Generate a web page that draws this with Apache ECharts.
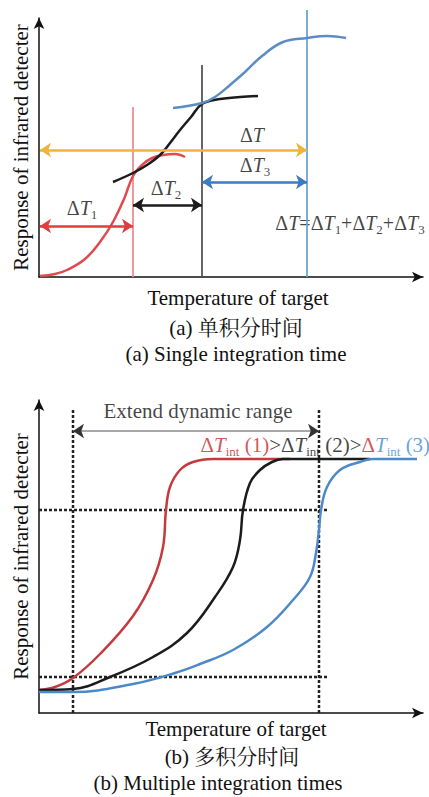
<!DOCTYPE html>
<html>
<head>
<meta charset="utf-8">
<script src="https://cdn.jsdelivr.net/npm/echarts@6/dist/echarts.min.js"></script>
<style>
  html, body { margin: 0; padding: 0; background: #fff; }
  #chart { width: 429px; height: 797px; }
</style>
</head>
<body>
<div id="chart"></div>
<script>
// (a) single integration time -- target temperature vs detector response
const aRedT = [1, 16, 28, 46, 61, 74, 85, 94, 103, 113, 124, 136, 146];
const aRedR = [1, 3, 7, 18, 35, 55, 78, 101, 112, 119, 122, 123, 120];
const aBlackT = [74, 94, 108, 121, 131, 141, 152, 163, 181, 201, 219];
const aBlackR = [95, 104, 112, 122, 134, 147, 160, 173, 178, 180, 181];
const aBlueT = [134, 163, 176, 191, 206, 223, 244, 268, 288, 307];
const aBlueR = [169, 174, 180, 192, 205, 221, 235, 239, 241, 239];
const aEdges = [94, 163, 268];        // ends of ΔT1, ΔT2, ΔT3
const aEdgeTops = [170, 212, 267];
const aArrowLevels = [51, 72, 95];    // ΔT1, ΔT2, ΔT3 arrows
const aTotalLevel = 127;              // ΔT arrow
const aStart = 1;

// (b) multiple integration times
const bRedT = [0, 16, 34, 61, 94, 114, 124, 127, 131, 141, 154, 174, 251];
const bRedR = [23, 26, 35, 59, 97, 133, 166, 203, 226, 243, 251, 254, 254];
const bBlackT = [0, 34, 71, 114, 148, 176, 194, 201, 204, 211, 221, 233, 244, 331];
const bBlackR = [23, 24, 36, 56, 80, 116, 146, 173, 203, 230, 243, 251, 254, 254];
const bBlueT = [0, 34, 94, 136, 161, 194, 228, 254, 271, 277, 280, 282, 288, 301, 321, 334, 378];
const bBlueR = [21, 21, 29, 40, 49, 63, 86, 113, 136, 160, 183, 203, 226, 243, 251, 254, 254];
const bDrops = [34, 280];       // vertical dotted guides
const bDropTop = 303;
const bLevels = [36, 203];      // horizontal dotted guides
const bLevelEnd = 290;
const bRangeLevel = 282;

const SERIF = 'Liberation Serif, serif';
const CAPTION_FONT = 'Liberation Serif, Noto Serif CJK SC, Noto Sans CJK SC, serif';

const pairs = (xs, ys) => xs.map((x, i) => [x, ys[i]]);

function deltaRich(size) {
  const colors = { k: '#111', r: '#c8282e', b: '#3f8ad8' };
  const rich = {};
  Object.keys(colors).forEach(c => {
    rich['d' + c] = { fontFamily: SERIF, fontSize: size, color: colors[c], lineHeight: size + 6 };
    rich['t' + c] = { fontFamily: SERIF, fontSize: size, fontStyle: 'italic', color: colors[c], lineHeight: size + 6 };
    rich['n' + c] = { fontFamily: SERIF, fontSize: size, color: colors[c], lineHeight: size + 6 };
    rich['s' + c] = { fontFamily: SERIF, fontSize: 13, color: colors[c], lineHeight: 13, padding: [12, 0, 0, 0] };
  });
  return rich;
}

function axisPair(grid, xMax, yMax) {
  const axisLine = {
    show: true,
    onZero: false,
    symbol: ['none', 'arrow'],
    symbolSize: [8, 11],
    lineStyle: { color: '#111', width: 1.5 }
  };
  return {
    x: {
      gridIndex: grid, type: 'value', min: 0, max: xMax,
      axisLine, axisTick: { show: false }, axisLabel: { show: false }, splitLine: { show: false }
    },
    y: {
      gridIndex: grid, type: 'value', min: 0, max: yMax,
      name: 'Response of infrared detecter',
      nameLocation: 'middle', nameGap: 8,
      nameTextStyle: { fontFamily: SERIF, fontSize: 21, color: '#111' },
      axisLine, axisTick: { show: false }, axisLabel: { show: false }, splitLine: { show: false }
    }
  };
}

function plainLine(grid, data, color, width, type, smooth) {
  return {
    type: 'line', xAxisIndex: grid, yAxisIndex: grid, data,
    symbol: 'none', smooth: smooth || false, clip: false, silent: true,
    lineStyle: { color, width, type: type || 'solid' }
  };
}

function arrow(from, to, y, color) {
  return [
    { coord: [from, y], lineStyle: { color, width: 2.5, type: 'solid' } },
    { coord: [to, y] }
  ];
}

const axesA = axisPair(0, 384, 259);
const axesB = axisPair(1, 384, 313);

const option = {
  animation: false,
  backgroundColor: '#fff',
  title: [
    ['Temperature of target', 238, 287],
    ['(a) 单积分时间', 236, 317],
    ['(a) Single integration time', 236, 343],
    ['Temperature of target', 236, 718],
    ['(b) 多积分时间', 232, 746],
    ['(b) Multiple integration times', 218, 772]
  ].map(([text, x, y]) => ({
    text, left: x, top: y, textAlign: 'center', padding: 0,
    textStyle: { fontFamily: CAPTION_FONT, fontSize: 21, fontWeight: 'normal', color: '#111', lineHeight: 22 }
  })),
  grid: [
    { left: 39, top: 18, width: 384, height: 259 },
    { left: 39, top: 400, width: 384, height: 313 }
  ],
  xAxis: [axesA.x, axesB.x],
  yAxis: [axesA.y, axesB.y],
  series: [
    // (a) boundaries of the three sub-ranges
    plainLine(0, [[aEdges[0], 0], [aEdges[0], aEdgeTops[0]]], '#ef8d92', 1.8),
    plainLine(0, [[aEdges[1], 0], [aEdges[1], aEdgeTops[1]]], '#555', 1.8),
    plainLine(0, [[aEdges[2], 0], [aEdges[2], aEdgeTops[2]]], '#6ea3d6', 1.8),
    // (a) response curves
    plainLine(0, pairs(aRedT, aRedR), '#e04a4f', 2.5, 'solid', 0.4),
    plainLine(0, pairs(aBlackT, aBlackR), '#1b1b1b', 2.5, 'solid', 0.4),
    plainLine(0, pairs(aBlueT, aBlueR), '#5b8cc4', 2.5, 'solid', 0.4),
    // (a) range arrows
    {
      type: 'line', xAxisIndex: 0, yAxisIndex: 0, data: [], silent: true,
      markLine: {
        silent: true, symbol: ['arrow', 'arrow'], symbolSize: 11,
        label: { show: false },
        data: [
          arrow(aStart, aEdges[2], aTotalLevel, '#efb43c'),
          arrow(aStart, aEdges[0], aArrowLevels[0], '#e23c40'),
          arrow(aEdges[0], aEdges[1], aArrowLevels[1], '#1b1b1b'),
          arrow(aEdges[1], aEdges[2], aArrowLevels[2], '#3b7bbf')
        ]
      }
    },
    // (a) labels
    {
      type: 'scatter', xAxisIndex: 0, yAxisIndex: 0, symbolSize: 1, silent: true,
      itemStyle: { color: 'transparent' },
      label: { show: true, position: 'inside', rich: deltaRich(20) },
      data: [
        { value: [43, 69], label: { formatter: '{dk|Δ}{tk|T}{sk|1}' } },
        { value: [127, 89], label: { formatter: '{dk|Δ}{tk|T}{sk|2}' } },
        { value: [213, 142], label: { formatter: '{dk|Δ}{tk|T}' } },
        { value: [216, 112], label: { formatter: '{dk|Δ}{tk|T}{sk|3}' } },
        { value: [311, 54], label: { formatter: '{dk|Δ}{tk|T}{nk|=}{dk|Δ}{tk|T}{sk|1}{nk|+}{dk|Δ}{tk|T}{sk|2}{nk|+}{dk|Δ}{tk|T}{sk|3}' } }
      ]
    },

    // (b) dotted guides
    plainLine(1, [[bDrops[0], 0], [bDrops[0], bDropTop]], '#222', 2.5, [3, 2]),
    plainLine(1, [[bDrops[1], 0], [bDrops[1], bDropTop]], '#222', 2.5, [3, 2]),
    plainLine(1, [[0, bLevels[0]], [bLevelEnd, bLevels[0]]], '#222', 2.5, [3, 2]),
    plainLine(1, [[0, bLevels[1]], [bLevelEnd, bLevels[1]]], '#222', 2.5, [3, 2]),
    // (b) response curves for three integration times
    plainLine(1, pairs(bRedT, bRedR), '#c53a3e', 2.5, 'solid', 0.4),
    plainLine(1, pairs(bBlackT, bBlackR), '#1b1b1b', 2.5, 'solid', 0.4),
    plainLine(1, pairs(bBlueT, bBlueR), '#4d89c8', 2.5, 'solid', 0.4),
    // (b) extended range arrow
    {
      type: 'line', xAxisIndex: 1, yAxisIndex: 1, data: [], silent: true,
      markLine: {
        silent: true, symbolSize: 11, label: { show: false },
        data: [
          [
            { coord: [bDrops[0], bRangeLevel], symbol: 'none', lineStyle: { color: '#a8a8a8', width: 2, type: 'solid' } },
            { coord: [bDrops[1], bRangeLevel], symbol: 'none' }
          ],
          [
            { coord: [bDrops[0], bRangeLevel], symbol: 'arrow', lineStyle: { color: '#333', width: 1, type: 'solid' } },
            { coord: [bDrops[0] + 4, bRangeLevel], symbol: 'none' }
          ],
          [
            { coord: [bDrops[1] - 4, bRangeLevel], symbol: 'none', lineStyle: { color: '#333', width: 1, type: 'solid' } },
            { coord: [bDrops[1], bRangeLevel], symbol: 'arrow' }
          ]
        ]
      }
    },
    // (b) labels
    {
      type: 'scatter', xAxisIndex: 1, yAxisIndex: 1, symbolSize: 1, silent: true,
      itemStyle: { color: 'transparent' },
      label: { show: true, position: 'inside', rich: deltaRich(21) },
      data: [
        {
          value: [159, 302],
          label: { formatter: 'Extend dynamic range', fontFamily: SERIF, fontSize: 21, color: '#111' }
        },
        {
          value: [161, 268],
          label: {
            position: 'right', distance: 0,
            formatter: '{dr|Δ}{tr|T}{sr|int}{nr| (1)}{nk|>}{dk|Δ}{tk|T}{sk|int}{nk| (2)>}{dr|Δ}{tb|T}{sb|int}{nb| (3)}'
          }
        }
      ]
    }
  ]
};

const chart = echarts.init(document.getElementById('chart'), null, { renderer: 'svg' });
chart.setOption(option);
</script>
</body>
</html>
